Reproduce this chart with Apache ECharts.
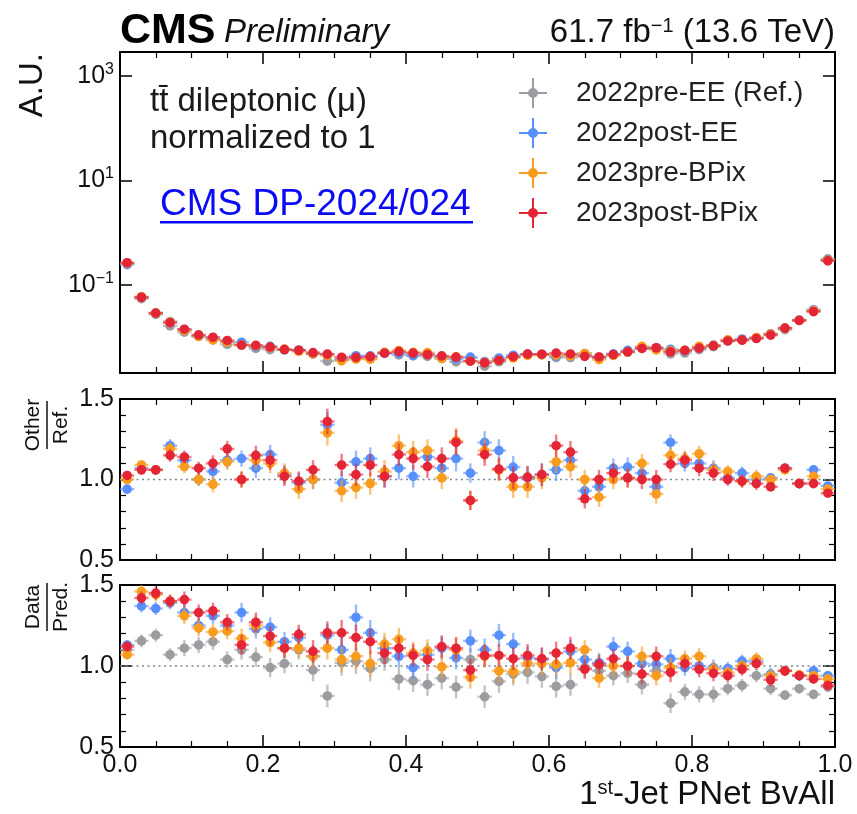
<!DOCTYPE html>
<html><head><meta charset="utf-8">
<script src="https://cdn.jsdelivr.net/npm/echarts@6/dist/echarts.min.js"></script>
<style>html,body{margin:0;padding:0;background:#fff}#c{width:857px;height:814px}</style>
</head><body><div id="c"></div>
<script>
// ---------------- data ----------------
const binCenters = [0.01,0.03,0.05,0.07,0.09,0.11,0.13,0.15,0.17,0.19,0.21,0.23,0.25,0.27,0.29,0.31,0.33,0.35,0.37,0.39,0.41,0.43,0.45,0.47,0.49,0.51,0.53,0.55,0.57,0.59,0.61,0.63,0.65,0.67,0.69,0.71,0.73,0.75,0.77,0.79,0.81,0.83,0.85,0.87,0.89,0.91,0.93,0.95,0.97,0.99];
const binHalfWidth = 0.01;

const seriesNames = ['2022pre-EE (Ref.)','2022post-EE','2023pre-BPix','2023post-BPix'];

// normalized shape of the reference era (2022pre-EE)
const refShape = [0.260,0.0547,0.0274,0.0165,0.0125,0.0104,0.0091,0.0073,0.0071,0.0061,
  0.0058,0.0057,0.0057,0.0048,0.0035,0.0038,0.0040,0.0039,0.0049,0.0046,
  0.0044,0.0043,0.0039,0.0034,0.0040,0.0028,0.0034,0.0042,0.0047,0.0046,
  0.0041,0.0041,0.0049,0.0042,0.0045,0.0052,0.0061,0.0063,0.0048,0.0050,
  0.0058,0.0066,0.0085,0.0089,0.0097,0.0115,0.0140,0.0215,0.0318,0.317];

// Other / Ref.
const ratioBlue = [0.94,1.07,1.06,1.21,1.12,1.00,1.05,1.12,1.13,1.07,
  1.155,1.03,0.98,1.00,1.34,0.98,1.11,1.13,1.02,1.07,
  1.02,1.14,1.07,1.13,1.04,1.23,1.18,1.077,1.01,1.03,
  1.06,1.12,0.93,0.955,1.07,1.077,1.04,0.955,1.23,1.10,
  1.10,1.07,1.01,1.04,1.00,1.01,1.07,0.975,1.06,0.96];
const ratioOrange = [1.00,1.09,1.06,1.19,1.08,1.00,0.97,1.11,1.00,1.12,
  1.10,1.04,0.94,1.00,1.29,0.93,0.95,0.975,1.05,1.21,
  1.17,1.18,1.01,1.24,0.87,1.18,1.06,0.955,0.955,1.01,
  1.11,1.08,1.00,0.89,1.00,1.01,1.10,0.91,1.15,1.13,
  1.16,1.06,1.05,0.99,1.02,1.00,1.06,0.975,1.02,0.94];
const ratioRed = [1.025,1.06,1.06,1.15,1.14,1.07,1.10,1.19,1.00,1.15,
  1.12,1.02,0.99,1.06,1.36,1.09,1.03,1.09,1.02,1.155,
  1.13,1.08,1.13,1.23,0.87,1.155,1.065,1.01,1.015,1.03,
  1.21,1.17,0.88,1.00,1.04,1.01,1.00,1.00,1.095,1.12,
  1.07,1.04,1.00,0.99,0.975,0.955,1.07,0.975,0.975,0.915];
const ratioErr = [0.02,0.03,0.03,0.04,0.04,0.04,0.05,0.05,0.05,0.06,
  0.06,0.06,0.06,0.06,0.08,0.07,0.07,0.07,0.07,0.07,
  0.07,0.07,0.07,0.08,0.06,0.07,0.07,0.07,0.07,0.07,
  0.07,0.07,0.06,0.06,0.06,0.06,0.06,0.06,0.05,0.05,
  0.05,0.05,0.04,0.04,0.04,0.03,0.03,0.03,0.03,0.02];

// Data / Pred.
const dataRef = [1.10,1.155,1.19,1.07,1.11,1.13,1.15,1.04,1.10,1.055,
  0.99,1.015,1.10,0.975,0.815,1.02,1.03,0.985,1.04,0.92,
  0.91,0.885,0.925,0.87,1.04,0.81,0.905,0.95,0.96,0.935,
  0.875,0.885,0.99,0.97,0.94,0.955,0.885,0.97,0.77,0.84,
  0.825,0.825,0.86,0.88,0.94,0.86,0.82,0.86,0.825,0.87];
const dataBlue = [1.13,1.37,1.355,1.39,1.33,1.25,1.31,1.25,1.33,1.23,
  1.24,1.15,1.175,1.06,1.19,1.10,1.30,1.205,1.11,1.06,
  0.99,1.07,1.11,1.05,1.155,1.10,1.19,1.135,1.05,1.04,
  0.99,1.09,1.04,1.02,1.12,1.09,1.015,1.01,1.045,0.99,
  1.00,0.99,0.985,1.03,1.03,0.95,0.97,0.94,0.97,0.94];
const dataOrange = [1.07,1.46,1.44,1.40,1.31,1.235,1.21,1.215,1.17,1.25,
  1.145,1.11,1.11,1.06,1.11,1.04,1.06,1.015,1.135,1.165,
  1.08,1.095,0.995,1.10,0.93,1.06,0.97,0.965,1.015,1.015,
  1.01,1.02,1.10,0.925,1.00,1.00,1.06,0.94,0.99,1.045,
  1.06,0.98,0.96,1.00,1.045,0.94,0.97,0.945,0.94,0.92];
const dataRed = [1.12,1.42,1.45,1.40,1.41,1.33,1.34,1.27,1.13,1.27,
  1.185,1.11,1.195,1.09,1.205,1.205,1.175,1.15,1.08,1.11,
  1.065,1.04,1.12,1.11,0.975,1.065,1.065,1.045,1.065,1.045,
  1.08,1.11,0.98,1.01,1.045,1.00,0.95,1.06,0.96,1.015,
  0.98,0.955,0.94,0.98,1.015,0.915,0.97,0.94,0.92,0.88];
const dataErr = [0.03,0.04,0.04,0.04,0.05,0.05,0.05,0.05,0.06,0.06,
  0.06,0.06,0.06,0.07,0.07,0.08,0.08,0.08,0.07,0.07,
  0.07,0.07,0.07,0.07,0.07,0.07,0.07,0.07,0.07,0.07,
  0.07,0.07,0.06,0.06,0.06,0.06,0.06,0.06,0.06,0.05,
  0.05,0.05,0.04,0.04,0.04,0.04,0.03,0.03,0.03,0.03];

// axis ticks / labels
const xTickLabels = [0.0,0.2,0.4,0.6,0.8,1.0];
const topLogTicks = [-1,1,3];          // exponents shown as 10^n
const topLogRange = [-2.684, 3.459];   // log10 of the y-range of the top panel
const ratioRange = [0.5, 1.5];
const refLevel = 1.0;

// ---------------- styling ----------------
const FONT = '"Liberation Sans", Arial, Helvetica, sans-serif';
const colors = ['#9c9ca1','#5790fc','#f89c20','#e42536'];

const grids = [
  {left:120, top:52, width:715, height:321},
  {left:120, top:399, width:715, height:161},
  {left:120, top:585, width:715, height:162}
];

function errSeries(name, color, gi, pts, z) {
  return {
    name, type:'custom', xAxisIndex:gi, yAxisIndex:gi, z, clip:true, silent:true,
    itemStyle:{color}, encode:{x:0, y:1}, data:pts,
    renderItem(params, api) {
      const x = api.value(0), y = api.value(1), lo = api.value(2), hi = api.value(3);
      const c = api.coord([x, y]);
      const l = api.coord([x - binHalfWidth, y]);
      const r = api.coord([x + binHalfWidth, y]);
      const b = api.coord([x, lo]);
      const t = api.coord([x, hi]);
      return {type:'group', children:[
        {type:'line', shape:{x1:l[0], y1:c[1], x2:r[0], y2:c[1]}, style:{stroke:color, lineWidth:2.4, opacity:0.6}},
        {type:'line', shape:{x1:c[0], y1:b[1], x2:c[0], y2:t[1]}, style:{stroke:color, lineWidth:2.4, opacity:0.6}},
        {type:'circle', shape:{cx:c[0], cy:c[1], r:4.8}, style:{fill:color}}
      ]};
    }
  };
}

function xAxisCfg(gi, position, showLabels) {
  return {
    type:'value', gridIndex:gi, position, min:0, max:1, interval:0.2,
    axisLine:{show:true, onZero:false, lineStyle:{color:'#000', width:2}},
    axisTick:{show:true, inside:true, length:12, lineStyle:{color:'#000', width:1.5}},
    minorTick:{show:true, splitNumber:4, length:6, lineStyle:{color:'#000', width:1.2}},
    axisLabel:{show:showLabels, customValues: showLabels ? xTickLabels : undefined,
      formatter:v => v.toFixed(1), fontSize:25, color:'#111', fontFamily:FONT, margin:6},
    splitLine:{show:false}
  };
}
function ratioYAxis(gi, position, showLabels) {
  return {
    type:'value', gridIndex:gi, position, min:ratioRange[0], max:ratioRange[1], interval:0.5,
    axisLine:{show:true, onZero:false, lineStyle:{color:'#000', width:2}},
    axisTick:{show:true, inside:true, length:12, lineStyle:{color:'#000', width:1.5}},
    minorTick:{show:true, splitNumber:5, length:6, lineStyle:{color:'#000', width:1.2}},
    axisLabel:{show:showLabels, formatter:v => v.toFixed(1), fontSize:25, color:'#111', fontFamily:FONT, margin:6},
    splitLine:{show:false}
  };
}
function logYAxis(position, showLabels) {
  return {
    type:'value', gridIndex:0, position, min:topLogRange[0], max:topLogRange[1],
    axisLine:{show:true, onZero:false, lineStyle:{color:'#000', width:2}},
    axisTick:{show:true, inside:true, length:12, customValues:topLogTicks, lineStyle:{color:'#000', width:1.5}},
    minorTick:{show:false},
    axisLabel:{show:showLabels, customValues:topLogTicks,
      formatter:v => '10{sup|' + (v < 0 ? '\u2212' + Math.abs(v) : v) + '}',
      fontSize:25, lineHeight:29, color:'#111', fontFamily:FONT, margin:6,
      rich:{sup:{fontSize:16, lineHeight:16, verticalAlign:'top', fontFamily:FONT, color:'#111'}}},
    splitLine:{show:false}
  };
}

// ---------------- build series ----------------
const series = [];
const ratioSets = [null, ratioBlue, ratioOrange, ratioRed];
const dataSets = [dataRef, dataBlue, dataOrange, dataRed];

// top panel: normalized shapes (log10 on a linear axis)
for (let s = 0; s < 4; s++) {
  const pts = binCenters.map((x, i) => {
    const v = s === 0 ? refShape[i] : refShape[i] * ratioSets[s][i];
    const ly = Math.log10(v);
    return [x, ly, ly, ly];
  });
  series.push(errSeries(seriesNames[s], colors[s], 0, pts, 2 + s));
}
// middle panel: Other / Ref.
series.push({type:'line', xAxisIndex:1, yAxisIndex:1, data:[[0,refLevel],[1,refLevel]], symbol:'none', silent:true,
  lineStyle:{type:[2,3.5], color:'#7d8794', width:1.6}, z:1});
for (let s = 1; s < 4; s++) {
  const pts = binCenters.map((x, i) => [x, ratioSets[s][i], ratioSets[s][i] - ratioErr[i], ratioSets[s][i] + ratioErr[i]]);
  series.push(errSeries(seriesNames[s], colors[s], 1, pts, 2 + s));
}
// bottom panel: Data / Pred.
series.push({type:'line', xAxisIndex:2, yAxisIndex:2, data:[[0,refLevel],[1,refLevel]], symbol:'none', silent:true,
  lineStyle:{type:[2,3.5], color:'#7d8794', width:1.6}, z:1});
for (let s = 0; s < 4; s++) {
  const pts = binCenters.map((x, i) => [x, dataSets[s][i], dataSets[s][i] - dataErr[i], dataSets[s][i] + dataErr[i]]);
  series.push(errSeries(seriesNames[s], colors[s], 2, pts, 2 + s));
}

const legendIcon = 'path://M0,14L28,14L28,16L0,16Z M13,0L15,0L15,30L13,30Z M19,15A5,5 0 1 1 9,15A5,5 0 1 1 19,15Z M51.9,15L52,15L52,15.1L51.9,15.1Z';

function fraction(cx, cy, num, den, w) {
  return {type:'group', x:cx, y:cy, rotation:Math.PI/2, children:[
    {type:'text', x:0, y:-14, style:{text:num, fontSize:21, fontFamily:FONT, fill:'#111', align:'center', verticalAlign:'middle'}},
    {type:'line', shape:{x1:-w/2, y1:0, x2:w/2, y2:0}, style:{stroke:'#111', lineWidth:1.5}},
    {type:'text', x:0, y:14, style:{text:den, fontSize:21, fontFamily:FONT, fill:'#111', align:'center', verticalAlign:'middle'}}
  ]};
}

const option = {
  animation:false,
  backgroundColor:'#fff',
  grid: grids.map(g => Object.assign({outerBoundsMode:'none', containLabel:false}, g)),
  xAxis:[xAxisCfg(0,'bottom',false), xAxisCfg(1,'bottom',false), xAxisCfg(2,'bottom',true),
         xAxisCfg(0,'top',false), xAxisCfg(1,'top',false), xAxisCfg(2,'top',false)],
  yAxis:[logYAxis('left',true), ratioYAxis(1,'left',true), ratioYAxis(2,'left',true),
         logYAxis('right',false), ratioYAxis(1,'right',false), ratioYAxis(2,'right',false)],
  legend:{orient:'vertical', left:519, top:78, itemWidth:52, itemHeight:30, itemGap:10, padding:0,
    data:seriesNames, icon:legendIcon, selectedMode:false,
    textStyle:{fontSize:28, fontFamily:FONT, color:'#222'}},
  series,
  graphic:[
    {type:'text', x:120, y:31, style:{text:'CMS', fontSize:43, fontWeight:'bold', fontFamily:FONT, fill:'#000', verticalAlign:'middle'}},
    {type:'text', x:224, y:33, style:{text:'Preliminary', fontSize:33, fontStyle:'italic', fontFamily:FONT, fill:'#111', verticalAlign:'middle'}},
    {type:'text', x:835, y:33, style:{text:'61.7 fb{sup|\u22121} (13.6 TeV)', fontSize:33, fontFamily:FONT, fill:'#111', align:'right', verticalAlign:'middle',
      rich:{sup:{fontSize:20, lineHeight:20, verticalAlign:'top', fontFamily:FONT, fill:'#111'}}}},
    {type:'text', x:33, y:53, rotation:Math.PI/2, style:{text:'A.U.', fontSize:33, fontFamily:FONT, fill:'#111', align:'right', verticalAlign:'middle'}},
    fraction(47, 425, 'Other', 'Ref.', 48),
    fraction(47, 607, 'Data', 'Pred.', 48),
    {type:'text', x:150, y:102, style:{text:'tt\u0304 dileptonic (\u03bc)', fontSize:33, fontFamily:FONT, fill:'#1a1a1a', verticalAlign:'middle'}},
    {type:'text', x:150, y:139, style:{text:'normalized to 1', fontSize:33, fontFamily:FONT, fill:'#1a1a1a', verticalAlign:'middle'}},
    {type:'text', x:160, y:205, style:{text:'CMS DP-2024/024', fontSize:37, fontFamily:FONT, fill:'#0a0af5', verticalAlign:'middle'}},
    {type:'rect', shape:{x:160, y:221, width:313, height:2.5}, style:{fill:'#0a0af5'}},
    {type:'text', x:835, y:795, style:{text:'1{sup|st}-Jet PNet BvAll', fontSize:33, fontFamily:FONT, fill:'#111', align:'right', verticalAlign:'middle',
      rich:{sup:{fontSize:20, lineHeight:20, verticalAlign:'top', fontFamily:FONT, fill:'#111'}}}}
  ]
};
const chart = echarts.init(document.getElementById('c'), null, {renderer:'canvas'});
chart.setOption(option);
</script>
</body></html>
